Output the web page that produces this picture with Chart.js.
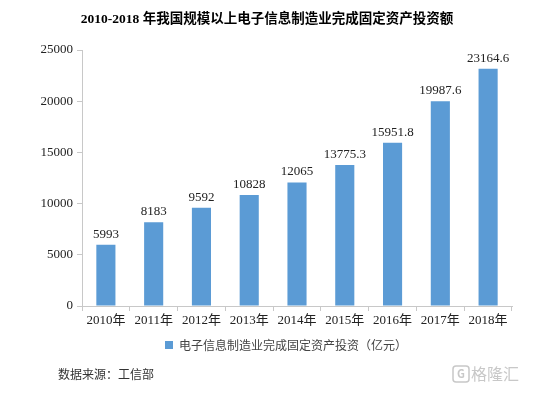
<!DOCTYPE html>
<html>
<head>
<meta charset="utf-8">
<script src="https://cdn.jsdelivr.net/npm/chart.js@4/dist/chart.umd.min.js"></script>
<style>
  html, body { margin: 0; padding: 0; background: #fff; }
  #wrap { width: 554px; height: 394px; }
</style>
</head>
<body>
<div id="wrap"><canvas id="chart" width="554" height="394"></canvas></div>
<script>
const years = ['2010年', '2011年', '2012年', '2013年', '2014年', '2015年', '2016年', '2017年', '2018年'];
const investment = [5993, 8183, 9592, 10828, 12065, 13775.3, 15951.8, 19987.6, 23164.6];
const yTicks = [0, 5000, 10000, 15000, 20000, 25000];

const titleText = '2010-2018 年我国规模以上电子信息制造业完成固定资产投资额';
const seriesName = '电子信息制造业完成固定资产投资（亿元）';
const sourceText = '数据来源：工信部';

const serif = '"Liberation Serif", "Noto Sans CJK SC", serif';
const sans = '"Noto Sans CJK SC", sans-serif';

// title, bar values, source line and watermark
const extras = {
  id: 'extras',
  afterLayout(chart) {
    // legend sits a bit right of centre in the original
    chart.legend.left += 30;
    chart.legend.right += 30;
  },
  afterDatasetsDraw(chart) {
    const ctx = chart.ctx;
    ctx.save();
    ctx.fillStyle = '#000';
    ctx.font = 'bold 13.5px ' + serif;
    ctx.textAlign = 'center';
    ctx.textBaseline = 'middle';
    ctx.fillText(titleText, 267, 20);

    const meta = chart.getDatasetMeta(0);
    ctx.font = '13px ' + serif;
    ctx.fillStyle = '#222';
    ctx.textBaseline = 'alphabetic';
    meta.data.forEach((bar, i) => {
      ctx.fillText(String(investment[i]), bar.x, bar.y - 7);
    });

    ctx.textAlign = 'left';
    ctx.textBaseline = 'middle';
    ctx.font = '12px ' + sans;
    ctx.fillStyle = '#333';
    ctx.fillText(sourceText, 58, 374);

    // watermark
    ctx.strokeStyle = '#c8c8c8';
    ctx.fillStyle = '#c8c8c8';
    ctx.lineWidth = 1.5;
    ctx.beginPath();
    ctx.roundRect(453, 366, 16, 16, 3);
    ctx.stroke();
    ctx.font = 'bold 11px ' + sans;
    ctx.textAlign = 'center';
    ctx.fillText('G', 461, 374);
    ctx.font = '16px ' + sans;
    ctx.textAlign = 'left';
    ctx.fillText('格隆汇', 471, 374);
    ctx.restore();
  }
};

new Chart(document.getElementById('chart'), {
  type: 'bar',
  data: {
    labels: years,
    datasets: [{
      label: seriesName,
      data: investment,
      backgroundColor: '#5B9BD5',
      barPercentage: 0.8,
      categoryPercentage: 0.5
    }]
  },
  options: {
    responsive: false,
    animation: false,
    layout: { padding: { top: 50, left: 0, right: 42, bottom: 33 } },
    plugins: {
      title: { display: false },
      tooltip: { enabled: false },
      legend: {
        position: 'bottom',
        labels: {
          boxWidth: 8,
          boxHeight: 8,
          padding: 8,
          color: '#444',
          font: { family: sans, size: 12 }
        }
      }
    },
    scales: {
      x: {
        afterFit(scale) { scale.height = 25; },
        grid: { offset: true, drawOnChartArea: false, drawTicks: true, tickLength: 5, color: '#c8c8c8' },
        border: { color: '#c8c8c8' },
        ticks: { color: '#222', font: { family: serif, size: 13 }, padding: 2 }
      },
      y: {
        min: 0,
        max: 25000,
        afterFit(scale) { scale.width = 82; },
        afterBuildTicks(scale) { scale.ticks = yTicks.map(v => ({ value: v })); },
        grid: { drawOnChartArea: false, drawTicks: true, tickLength: 5, color: '#c8c8c8' },
        border: { color: '#c8c8c8' },
        ticks: {
          color: '#222',
          font: { family: serif, size: 13 },
          padding: 4,
          callback: v => String(v)
        }
      }
    }
  },
  plugins: [extras]
});
</script>
</body>
</html>
